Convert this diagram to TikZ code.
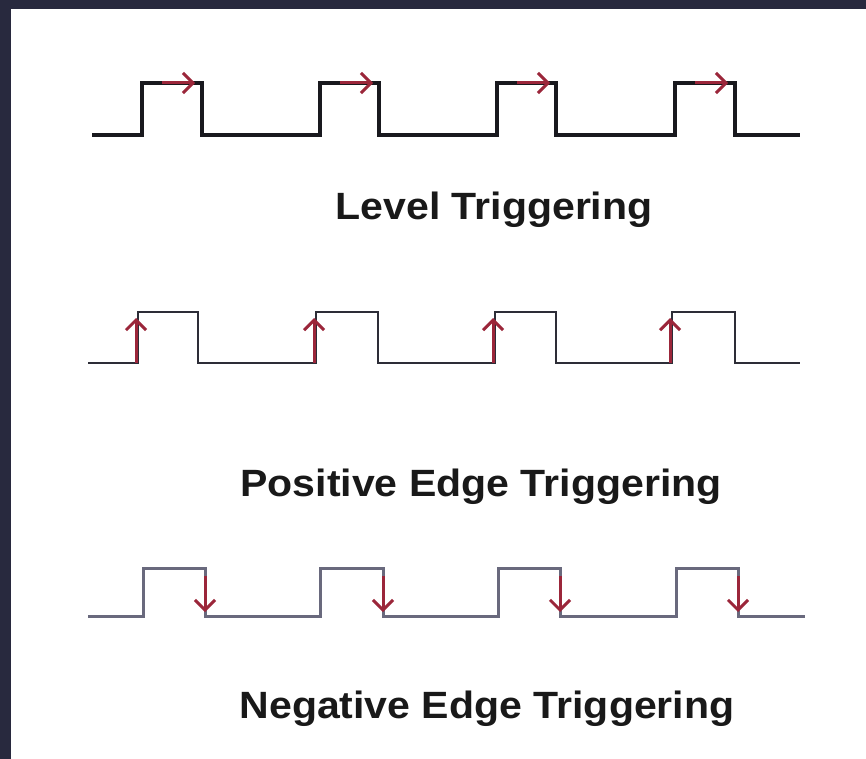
\documentclass[tikz,border=0pt]{standalone}
\usepackage{fontspec}
\setmainfont{Liberation Sans}
\usetikzlibrary{arrows.meta}
\definecolor{navy}{RGB}{40,41,62}
\definecolor{arrowred}{RGB}{155,38,58}
\definecolor{waveA}{RGB}{25,25,30}
\definecolor{waveB}{RGB}{45,45,55}
\definecolor{waveC}{RGB}{105,105,125}
\tikzset{
  waveone/.style={draw=waveA, line width=3.8pt, line join=miter},
  wavetwo/.style={draw=waveB, line width=2.9pt, line join=miter},
  wavethree/.style={draw=waveC, line width=3pt, line join=miter},
  redarrow/.style={draw=arrowred, line width=3pt, -{Straight Barb[length=10pt,width=20pt,line width=3pt]}},
  label/.style={font=\bfseries\fontsize{38}{42}\selectfont, text=black!90, inner sep=0pt, anchor=base, xscale=1.08}
}
\begin{document}
\begin{tikzpicture}[x=1pt,y=-1pt]
\useasboundingbox (0,0) rectangle (866,759);
\fill[navy] (0,0) rectangle (866,759);
\fill[white] (11,9) rectangle (866,759);

% Row 1: level triggering
\draw[waveone] (92,135) -- (142,135) -- (142,83) -- (202,83) -- (202,135)
  -- (320,135) -- (320,83) -- (379,83) -- (379,135)
  -- (497,135) -- (497,83) -- (556,83) -- (556,135)
  -- (675,135) -- (675,83) -- (735,83) -- (735,135) -- (800,135);
\foreach \x in {142,320,497,675} {
  \draw[redarrow] (\x+20,83) -- (\x+53,83);
}
\node[label] (lvl) at (494,219) {Level Triggering};

% Row 2: positive edge triggering
\draw[wavetwo] (88,363) -- (138,363) -- (138,312) -- (198,312) -- (198,363)
  -- (316,363) -- (316,312) -- (378,312) -- (378,363)
  -- (495,363) -- (495,312) -- (556,312) -- (556,363)
  -- (672,363) -- (672,312) -- (735,312) -- (735,363) -- (800,363);
\foreach \x in {136,314,493,670} {
  \draw[redarrow] (\x,363) -- (\x,318);
}
\node[label] (pos) at (481,496) {Positive Edge Triggering};

% Row 3: negative edge triggering
\draw[wavethree] (88,616) -- (143,616) -- (143,568) -- (205,568) -- (205,616)
  -- (320,616) -- (320,568) -- (383,568) -- (383,616)
  -- (498,616) -- (498,568) -- (560,568) -- (560,616)
  -- (676,616) -- (676,568) -- (738,568) -- (738,616) -- (805,616);
\foreach \x in {205,383,560,738} {
  \draw[redarrow] (\x,576) -- (\x,612);
}
\node[label] (neg) at (487,718) {Negative Edge Triggering};
\end{tikzpicture}
\end{document}
